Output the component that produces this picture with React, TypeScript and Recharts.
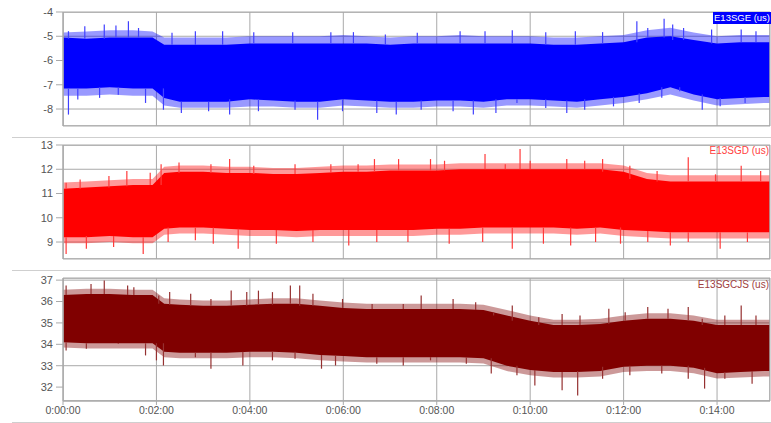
import React from "react";
import { ComposedChart, Area, Scatter, ErrorBar, XAxis, YAxis, CartesianGrid, ReferenceArea } from "recharts";

// time in seconds
const TIMES = [0,30,60,90,115,130,150,180,210,240,270,300,330,360,390,420,450,480,510,540,570,600,630,660,690,720,750,780,810,840,870,900,908];

// ---- E13SGE (us) ----
const SGE_CORE_HI = [-5.05,-5.1,-5.05,-5.05,-5.05,-5.35,-5.35,-5.35,-5.35,-5.3,-5.3,-5.3,-5.3,-5.3,-5.3,-5.35,-5.3,-5.3,-5.3,-5.3,-5.3,-5.3,-5.35,-5.35,-5.3,-5.25,-5.05,-5.0,-5.15,-5.3,-5.25,-5.25,-5.25];
const SGE_CORE_LO = [-7.15,-7.15,-7.1,-7.15,-7.15,-7.55,-7.7,-7.7,-7.7,-7.6,-7.65,-7.7,-7.7,-7.6,-7.65,-7.7,-7.7,-7.65,-7.65,-7.7,-7.6,-7.6,-7.65,-7.7,-7.6,-7.5,-7.35,-7.1,-7.4,-7.6,-7.55,-7.5,-7.5];
const SGE_FRINGE_HI = [-4.85,-4.8,-4.75,-4.75,-4.8,-5.05,-5.05,-5.05,-5.05,-5.0,-5.0,-5.0,-5.0,-4.95,-5.0,-5.05,-5.0,-5.0,-4.95,-5.0,-5.0,-5.0,-5.05,-5.05,-5.0,-4.95,-4.75,-4.65,-4.85,-5.0,-4.95,-4.95,-4.95];
const SGE_FRINGE_LO = [-7.45,-7.45,-7.4,-7.45,-7.45,-7.85,-7.95,-7.95,-7.95,-7.9,-7.9,-7.95,-7.95,-7.85,-7.9,-7.95,-7.95,-7.9,-7.9,-7.95,-7.85,-7.85,-7.9,-7.95,-7.85,-7.75,-7.6,-7.4,-7.65,-7.85,-7.8,-7.75,-7.75];
const SGE_SPIKE_T = [7,28,53,68,84,97,140,170,205,245,295,344,373,414,455,510,542,577,620,658,693,737,751,772,783,797,833,871,890,
  7,19,47,71,106,129,152,187,214,251,298,327,359,403,428,460,501,527,556,583,620,647,670,707,740,769,792,821,844,876];
const SGE_SPIKE_V = [-4.79,-4.59,-4.52,-4.56,-4.38,-4.66,-4.86,-4.79,-4.79,-4.83,-4.83,-4.83,-4.83,-4.93,-4.86,-4.79,-4.79,-4.75,-4.83,-4.79,-4.83,-4.38,-4.66,-4.28,-4.52,-4.66,-4.72,-4.72,-4.79,
  -8.23,-7.61,-7.54,-7.41,-7.75,-8.03,-8.16,-8.09,-8.23,-8.09,-8.03,-8.44,-8.09,-8.16,-8.23,-8.03,-8.09,-8.23,-8.16,-7.75,-7.96,-8.16,-8.03,-7.89,-7.75,-7.54,-7.27,-8.03,-7.89,-7.75];

// ---- E13SGD (us) ----
const SGD_CORE_HI = [11.2,11.25,11.3,11.35,11.35,11.85,11.9,11.9,11.85,11.85,11.8,11.8,11.85,11.9,11.9,11.95,11.95,11.95,12.0,12.0,12.0,12.0,12.0,12.0,12.0,11.9,11.6,11.5,11.5,11.5,11.5,11.5,11.5];
const SGD_CORE_LO = [9.2,9.2,9.25,9.2,9.2,9.55,9.6,9.6,9.55,9.5,9.5,9.45,9.5,9.5,9.5,9.5,9.5,9.55,9.55,9.6,9.6,9.6,9.6,9.55,9.6,9.5,9.45,9.4,9.4,9.4,9.4,9.4,9.4];
const SGD_FRINGE_HI = [11.45,11.5,11.55,11.6,11.6,12.1,12.15,12.15,12.1,12.1,12.05,12.05,12.1,12.15,12.15,12.2,12.2,12.2,12.25,12.25,12.25,12.25,12.25,12.25,12.25,12.15,11.85,11.75,11.75,11.75,11.75,11.75,11.75];
const SGD_FRINGE_LO = [8.95,8.95,9.0,8.95,8.95,9.3,9.35,9.35,9.3,9.25,9.25,9.2,9.25,9.25,9.25,9.25,9.25,9.3,9.3,9.35,9.35,9.35,9.35,9.3,9.35,9.25,9.2,9.15,9.15,9.15,9.15,9.15,9.15];
const SGD_SPIKE_T = [4,22,59,82,112,126,149,190,214,245,298,344,379,400,431,472,490,542,568,587,600,647,670,693,728,763,803,838,871,896,
  4,30,65,103,135,170,193,225,274,321,367,403,443,496,539,577,617,652,684,716,751,780,803,844,879];
const SGD_SPIKE_V = [11.44,11.58,11.72,11.93,11.86,12.21,12.28,12.21,12.42,12.14,12.21,12.21,12.21,12.42,12.42,12.42,12.35,12.63,12.21,12.84,12.35,12.42,12.35,12.42,12.14,11.93,12.49,11.79,12.14,11.93,
  8.51,8.72,8.79,8.51,9.0,9.07,8.93,8.72,8.93,9.0,8.86,9.0,9.0,8.93,9.0,8.72,8.93,8.86,9.0,8.93,9.0,8.86,9.0,8.72,9.0];

// ---- E13SGCJS (us) ----
const SGCJS_CORE_HI = [36.3,36.35,36.35,36.3,36.3,35.9,35.85,35.8,35.8,35.85,35.9,35.9,35.8,35.7,35.65,35.65,35.65,35.65,35.65,35.6,35.35,35.1,34.9,34.9,34.95,35.1,35.2,35.2,35.1,34.9,34.9,34.9,34.9];
const SGCJS_CORE_LO = [34.1,34.05,34.05,34.05,34.05,33.65,33.6,33.6,33.6,33.65,33.65,33.6,33.5,33.45,33.4,33.4,33.4,33.4,33.4,33.35,33.0,32.8,32.7,32.7,32.75,32.95,33.0,33.0,32.9,32.65,32.7,32.75,32.75];
const SGCJS_FRINGE_HI = [36.55,36.6,36.6,36.55,36.55,36.15,36.1,36.05,36.05,36.1,36.15,36.15,36.05,35.95,35.9,35.9,35.9,35.9,35.9,35.85,35.6,35.35,35.15,35.15,35.2,35.35,35.45,35.45,35.35,35.15,35.15,35.15,35.15];
const SGCJS_FRINGE_LO = [33.85,33.8,33.8,33.8,33.8,33.4,33.35,33.35,33.35,33.4,33.4,33.35,33.25,33.2,33.15,33.15,33.15,33.15,33.15,33.1,32.75,32.55,32.45,32.45,32.5,32.7,32.75,32.75,32.65,32.4,32.45,32.5,32.5];
const SGCJS_SPIKE_T = [4,36,53,83,91,123,137,164,190,216,236,251,269,292,304,321,359,397,437,460,501,530,553,577,611,641,664,701,722,751,777,803,821,850,871,890,
  4,30,71,106,120,129,170,190,231,269,298,332,350,403,437,472,518,550,583,606,641,661,693,728,769,803,824,850,885];
const SGCJS_SPIKE_V = [36.75,36.82,36.98,36.75,36.67,36.28,36.44,36.36,36.12,36.51,36.44,36.51,36.44,36.75,36.75,36.36,36.12,35.89,35.89,36.28,36.12,35.97,35.5,35.81,35.27,35.42,35.35,35.66,35.5,35.74,35.66,35.74,35.19,35.35,35.81,35.35,
  33.71,33.79,34.02,33.48,33.25,33.01,33.4,32.86,33.01,33.25,33.33,32.86,33.01,33.09,33.01,33.25,33.09,32.63,32.55,32.08,31.85,31.61,32.39,32.55,32.63,32.39,31.93,32.39,32.16];

const X_TICKS = [0,120,240,360,480,600,720,840];
const SGE_TICKS = [-8,-7,-6,-5,-4];
const SGD_TICKS = [9,10,11,12,13];
const SGCJS_TICKS = [32,33,34,35,36,37];

const X_DOMAIN: [number, number] = [0, 908];
const FONT = "'Liberation Sans', Arial, sans-serif";
const GRID = "#a9a9a9";
const TEXT = "#555";

function fmtTime(s: number) {
  const h = Math.floor(s / 3600);
  const m = Math.floor((s % 3600) / 60);
  const sec = Math.floor(s % 60);
  return `${h}:${String(m).padStart(2, "0")}:${String(sec).padStart(2, "0")}`;
}

function build(coreHi: number[], coreLo: number[], fHi: number[], fLo: number[]) {
  return TIMES.map((t, i) => ({
    t,
    core: [coreLo[i], coreHi[i]],
    fringe: [fLo[i], fHi[i]],
  }));
}

// each spike is a vertical stroke from the edge of the solid band out to the read value
function buildSpikes(ts: number[], vs: number[], coreHi: number[], coreLo: number[]) {
  return ts.map((t, i) => {
    let j = 0;
    while (j < TIMES.length - 2 && TIMES[j + 1] <= t) j++;
    const v = vs[i];
    const mid = (coreHi[j] + coreLo[j]) / 2;
    const base = v > mid ? Math.min(coreHi[j], coreHi[j + 1]) : Math.max(coreLo[j], coreLo[j + 1]);
    return { t, mid: (v + base) / 2, err: Math.abs(v - base) / 2 };
  });
}

type PanelProps = {
  data: any[];
  spikes: any[];
  color: string;
  spikeColor: string;
  domain: [number, number];
  ticks: number[];
  height: number;
  margin: any;
  showX: boolean;
};

const NoDot = () => <g />;

function Panel({ data, spikes, color, spikeColor, domain, ticks, height, margin, showX }: PanelProps) {
  return (
    <ComposedChart width={771} height={height} data={data} margin={margin}>
      <CartesianGrid stroke={GRID} strokeWidth={1} />
      <XAxis
        dataKey="t"
        type="number"
        domain={X_DOMAIN}
        ticks={X_TICKS}
        tickFormatter={fmtTime}
        hide={!showX}
        height={22}
        tick={{ fontSize: 10.5, fill: TEXT, fontFamily: FONT }}
        tickLine={{ stroke: GRID }}
        tickSize={4}
        axisLine={{ stroke: GRID }}
        allowDataOverflow
      />
      <YAxis
        type="number"
        domain={domain}
        ticks={ticks}
        width={63}
        allowDataOverflow
        tick={{ fontSize: 11, fill: TEXT, fontFamily: FONT }}
        tickLine={{ stroke: GRID }}
        tickSize={7}
        tickMargin={3}
        axisLine={{ stroke: GRID }}
      />
      <Area dataKey="fringe" type="linear" stroke="none" fill={color} fillOpacity={0.4} isAnimationActive={false} />
      <Scatter data={spikes} dataKey="mid" shape={NoDot} isAnimationActive={false}>
        <ErrorBar dataKey="err" direction="y" width={0} stroke={spikeColor} strokeWidth={1.2} isAnimationActive={false} />
      </Scatter>
      <Area dataKey="core" type="linear" stroke="none" fill={color} fillOpacity={1} isAnimationActive={false} />
      <ReferenceArea
        x1={X_DOMAIN[0]}
        x2={X_DOMAIN[1]}
        y1={domain[0]}
        y2={domain[1]}
        fill="none"
        stroke={GRID}
        strokeWidth={1.5}
        ifOverflow="hidden"
      />
    </ComposedChart>
  );
}

const sep = (top: number): React.CSSProperties => ({
  position: "absolute",
  left: 12,
  top,
  width: 759,
  height: 1,
  background: "#cfcfcf",
});

export default function App() {
  const sge = build(SGE_CORE_HI, SGE_CORE_LO, SGE_FRINGE_HI, SGE_FRINGE_LO);
  const sgd = build(SGD_CORE_HI, SGD_CORE_LO, SGD_FRINGE_HI, SGD_FRINGE_LO);
  const sgcjs = build(SGCJS_CORE_HI, SGCJS_CORE_LO, SGCJS_FRINGE_HI, SGCJS_FRINGE_LO);
  const sgeSp = buildSpikes(SGE_SPIKE_T, SGE_SPIKE_V, SGE_CORE_HI, SGE_CORE_LO);
  const sgdSp = buildSpikes(SGD_SPIKE_T, SGD_SPIKE_V, SGD_CORE_HI, SGD_CORE_LO);
  const sgcjsSp = buildSpikes(SGCJS_SPIKE_T, SGCJS_SPIKE_V, SGCJS_CORE_HI, SGCJS_CORE_LO);
  return (
    <div style={{ position: "absolute", left: 0, top: 0, width: 771, height: 423, background: "#fff", fontFamily: FONT, overflow: "hidden" }}>
      <div style={{ position: "absolute", left: 0, top: 0 }}>
        <Panel data={sge} spikes={sgeSp} color="#0000ff" spikeColor="#4040ff" domain={[-8.7, -4]} ticks={SGE_TICKS} height={137} margin={{ top: 12, right: 1, bottom: 11, left: 0 }} showX={false} />
      </div>
      <div style={{ position: "absolute", left: 0, top: 137 }}>
        <Panel data={sgd} spikes={sgdSp} color="#ff0000" spikeColor="#ff3a3a" domain={[8.3, 13]} ticks={SGD_TICKS} height={133} margin={{ top: 8, right: 1, bottom: 11, left: 0 }} showX={false} />
      </div>
      <div style={{ position: "absolute", left: 0, top: 270 }}>
        <Panel data={sgcjs} spikes={sgcjsSp} color="#800000" spikeColor="#953030" domain={[31.35, 37.1]} ticks={SGCJS_TICKS} height={153} margin={{ top: 8, right: 1, bottom: 0, left: 0 }} showX={true} />
      </div>
      <div style={sep(137)} />
      <div style={sep(270)} />
      <div style={sep(422)} />
      <div style={{ position: "absolute", right: 0, top: 12, background: "#0000ff", color: "#fff", fontSize: 9.5, lineHeight: "12px", padding: "0 1px" }}>E13SGE (us)</div>
      <div style={{ position: "absolute", right: 2, top: 145, color: "#ff4040", fontSize: 10, lineHeight: "12px" }}>E13SGD (us)</div>
      <div style={{ position: "absolute", right: 2, top: 279, color: "#a04040", fontSize: 10, lineHeight: "12px" }}>E13SGCJS (us)</div>
    </div>
  );
}
